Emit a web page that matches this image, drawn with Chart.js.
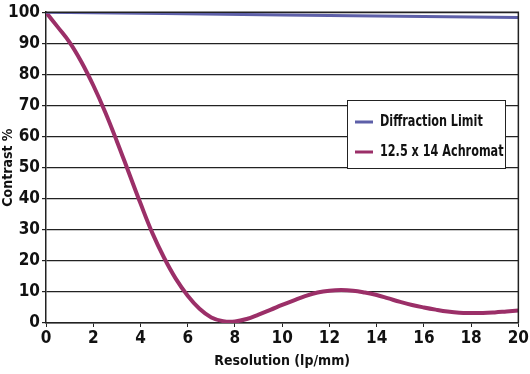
<!DOCTYPE html>
<html>
<head>
<meta charset="utf-8">
<script src="https://cdn.jsdelivr.net/npm/chart.js@4"></script>
<style>
  html, body { margin: 0; padding: 0; background: #fff; }
  #wrap { width: 530px; height: 374px; }
</style>
</head>
<body>
<div id="wrap"><canvas id="mtfChart" width="530" height="374"></canvas></div>
<script>
// values
const resolution = [0, 0.5, 1, 1.5, 2, 2.5, 3, 3.5, 4, 4.5, 5, 5.5, 6, 6.5, 7, 7.5, 8, 8.5, 9, 9.5, 10,
    10.5, 11, 11.5, 12, 12.5, 13, 13.5, 14, 14.5, 15, 15.5, 16, 16.5, 17, 17.5, 18, 18.5, 19, 19.5, 20];
const achromat = [100, 95.2, 90.3, 84, 76.5, 68, 58.5, 48.5, 38.5, 29, 21, 14.2, 8.8, 4.6, 1.8, 0.6, 0.5, 1.3, 2.7, 4.2, 5.8,
    7.3, 8.7, 9.8, 10.4, 10.6, 10.4, 9.8, 9, 7.9, 6.8, 5.8, 5, 4.3, 3.7, 3.3, 3.2, 3.2, 3.4, 3.7, 4];
const diffractionRes = [0, 5, 10, 15, 20];
const diffraction = [100, 99.6, 99.1, 98.7, 98.3];
const seriesNames = ['Diffraction Limit', '12.5 x 14 Achromat'];
const xTicks = [0, 2, 4, 6, 8, 10, 12, 14, 16, 18, 20];

const FONT = "'DejaVu Sans Condensed', sans-serif";

// frame + legend box inside the plot
const boxLegend = {
    id: 'boxLegend',
    afterDraw(chart) {
        const ctx = chart.ctx;
        const a = chart.chartArea;
        ctx.save();
        ctx.strokeStyle = '#222';
        ctx.lineWidth = 1.5;
        ctx.beginPath();
        ctx.moveTo(a.left, a.top);
        ctx.lineTo(a.right, a.top);
        ctx.lineTo(a.right, a.bottom);
        ctx.stroke();

        const x0 = 347, y0 = 100, w = 158, h = 68;
        ctx.fillStyle = '#fff';
        ctx.fillRect(x0, y0, w, h);
        ctx.lineWidth = 1;
        ctx.strokeRect(x0 + 0.5, y0 + 0.5, w, h);
        chart.data.datasets.forEach((ds, i) => {
            const y = y0 + 22 + i * 30;
            ctx.strokeStyle = ds.borderColor;
            ctx.lineWidth = 3;
            ctx.beginPath();
            ctx.moveTo(x0 + 8, y);
            ctx.lineTo(x0 + 26, y);
            ctx.stroke();
            ctx.save();
            ctx.fillStyle = '#111';
            ctx.font = 'bold 16px ' + FONT;
            ctx.textBaseline = 'middle';
            ctx.translate(x0 + 33, y);
            ctx.scale(0.78, 1); // condensed look of the original lettering
            ctx.fillText(ds.label, 0, 0);
            ctx.restore();
        });
        ctx.restore();
    }
};

var ctx = document.getElementById('mtfChart').getContext('2d');
var mtfChart = new Chart(ctx, {
    type: 'line',
    data: {
        datasets: [{
            label: seriesNames[0],
            data: diffractionRes.map((r, i) => ({ x: r, y: diffraction[i] })),
            borderColor: '#5d5fa8',
            borderWidth: 3,
            pointRadius: 0,
            tension: 0
        }, {
            label: seriesNames[1],
            data: resolution.map((r, i) => ({ x: r, y: achromat[i] })),
            borderColor: '#9b2f68',
            borderWidth: 4,
            pointRadius: 0,
            tension: 0.4
        }]
    },
    options: {
        responsive: false,
        animation: false,
        layout: { padding: { top: 12, right: 8, left: 0, bottom: 0 } },
        plugins: {
            legend: { display: false },
            tooltip: { enabled: false }
        },
        scales: {
            x: {
                type: 'linear',
                min: 0,
                max: 20,
                afterBuildTicks: axis => { axis.ticks = xTicks.map(v => ({ value: v })); },
                afterFit: axis => { axis.height = 51; },
                grid: { drawOnChartArea: false, drawTicks: true, tickLength: 4, color: '#222' },
                border: { color: '#222', width: 1.5 },
                ticks: { color: '#111', padding: 1, maxRotation: 0, font: { family: FONT, size: 17, weight: 'bold' } },
                title: { display: true, text: 'Resolution (lp/mm)', color: '#111', padding: { top: 3 },
                    font: { family: FONT, size: 14, weight: 'bold' } }
            },
            y: {
                min: 0,
                max: 100,
                afterFit: axis => { axis.width = 46; },
                grid: { color: '#222', lineWidth: 1.2, tickLength: 4 },
                border: { color: '#222', width: 1.5 },
                ticks: { stepSize: 10, color: '#111', padding: 2, font: { family: FONT, size: 17, weight: 'bold' } },
                title: { display: true, text: 'Contrast %', color: '#111', padding: 0,
                    font: { family: FONT, size: 14, weight: 'bold' } }
            }
        }
    },
    plugins: [boxLegend]
});
</script>
</body>
</html>
